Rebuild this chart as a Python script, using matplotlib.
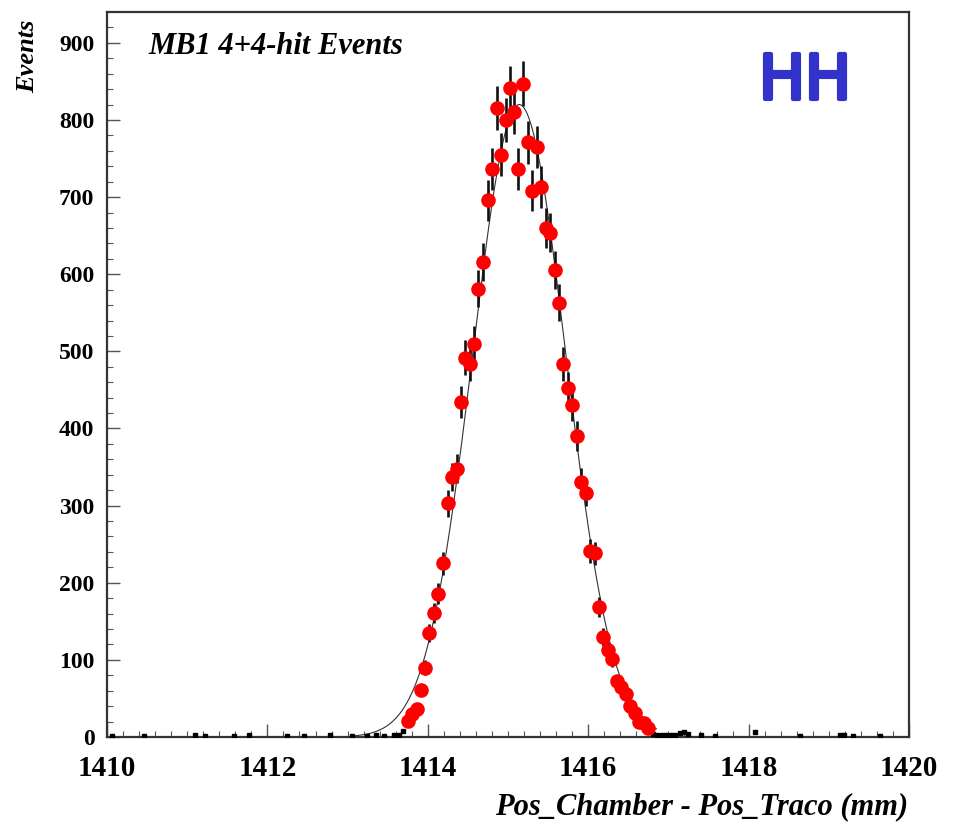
import matplotlib
matplotlib.use("Agg")
import matplotlib.pyplot as plt
import matplotlib.patheffects as pe
import numpy as np
from matplotlib.ticker import MultipleLocator

# red points (selected bins), x in mm, y in events
red_x = [1413.75, 1413.80, 1413.86, 1413.91, 1413.97, 1414.02, 1414.08, 1414.13,
         1414.19, 1414.25, 1414.30, 1414.36, 1414.41, 1414.47, 1414.52, 1414.58,
         1414.63, 1414.69, 1414.75, 1414.80, 1414.86, 1414.91, 1414.97, 1415.02,
         1415.08, 1415.13, 1415.19, 1415.25, 1415.30, 1415.36, 1415.41, 1415.47,
         1415.52, 1415.58, 1415.63, 1415.69, 1415.75, 1415.80, 1415.86, 1415.91,
         1415.97, 1416.02, 1416.08, 1416.13, 1416.19, 1416.25, 1416.30, 1416.36,
         1416.41, 1416.47, 1416.52, 1416.58, 1416.63, 1416.69, 1416.75]
red_y = [21, 30, 36, 61, 90, 135, 161, 186, 225, 303, 337, 348, 434, 492, 484, 510,
         581, 616, 696, 737, 816, 755, 800, 841, 810, 737, 847, 771, 708, 765, 713,
         660, 654, 605, 563, 484, 452, 430, 390, 330, 317, 241, 238, 169, 130, 113,
         101, 72, 65, 56, 40, 31, 19, 18, 12]

# black points (low-count bins outside the peak)
blk_x = [1410.06, 1410.46, 1411.10, 1411.22, 1411.58, 1411.77, 1412.24, 1412.46,
         1412.78, 1413.06, 1413.24, 1413.35, 1413.45, 1413.58, 1413.64, 1413.69,
         1416.81, 1416.86, 1416.92, 1416.97, 1417.03, 1417.08, 1417.14, 1417.19,
         1417.25, 1417.41, 1417.58, 1418.08, 1418.64, 1419.14, 1419.19, 1419.30,
         1419.64]
blk_y = [1, 1, 2, 1, 1, 2, 1, 1, 2, 1, 1, 2, 1, 2, 3, 8, 4, 3, 3, 2, 2, 3, 5, 6,
         4, 2, 1, 6, 1, 2, 2, 1, 1]

# gaussian fit parameters
fit_const = 820
fit_mean = 1415.14
fit_sigma = 0.58
fit_range = (1413.1, 1416.85)

W, H = 954, 823
fig = plt.figure(figsize=(W / 100, H / 100), dpi=100)
ax = fig.add_axes([107 / W, 86 / H, 802 / W, 725 / H])

serif = "Liberation Serif"

xf = np.linspace(*fit_range, 400)
ax.plot(xf, fit_const * np.exp(-0.5 * ((xf - fit_mean) / fit_sigma) ** 2),
        color="#333333", lw=0.8, zorder=2)

ax.errorbar(blk_x, blk_y, yerr=np.sqrt(blk_y), fmt="s", ms=2.5, color="black",
            elinewidth=1.2, capsize=0, zorder=3)
ax.errorbar(red_x, red_y, yerr=np.sqrt(red_y), fmt="none", ecolor="#111111",
            elinewidth=1.9, capsize=0, zorder=3)
ax.plot(red_x, red_y, "o", color="#ff0000", ms=10.5, mec="none", zorder=4)

ax.set_xlim(1410, 1420)
ax.set_ylim(0, 940)
ax.xaxis.set_major_locator(MultipleLocator(2))
ax.xaxis.set_minor_locator(MultipleLocator(0.2))
ax.yaxis.set_major_locator(MultipleLocator(100))
ax.yaxis.set_minor_locator(MultipleLocator(20))
ax.tick_params(which="both", direction="in", top=False, right=False,
               color="#555555")
ax.tick_params(which="major", length=9.5, width=1)
ax.tick_params(which="minor", length=4.3, width=0.8)
ax.tick_params(axis="x", pad=13)
ax.tick_params(axis="y", pad=9)
for lab in ax.get_xticklabels():
    lab.set_fontfamily(serif)
    lab.set_fontweight("bold")
    lab.set_fontsize(21)
for lab in ax.get_yticklabels():
    lab.set_fontfamily(serif)
    lab.set_fontweight("bold")
    lab.set_fontsize(17)
for sp in ax.spines.values():
    sp.set_linewidth(1.6)
    sp.set_color("#333333")

fig.text(28 / W, 1 - 56 / H, "Events", rotation=90, ha="center", va="center",
         family=serif, weight="bold", style="italic", fontsize=19)
fig.text(908 / W, 1 - 807 / H, "Pos_Chamber - Pos_Traco (mm)", ha="right",
         va="center", family=serif, weight="bold", style="italic", fontsize=22)
fig.text(148 / W, 1 - 47 / H, "MB1 4+4-hit Events", ha="left", va="center",
         family=serif, weight="bold", style="italic", fontsize=22)
fig.text(805 / W, 1 - 82 / H, "HH", ha="center", va="center", color="#3333cc",
         family="DejaVu Sans", fontsize=44,
         path_effects=[pe.Stroke(linewidth=3, foreground="#3333cc",
                                 joinstyle="round", capstyle="round"),
                       pe.Normal()])

fig.savefig("out.png", dpi=100)
